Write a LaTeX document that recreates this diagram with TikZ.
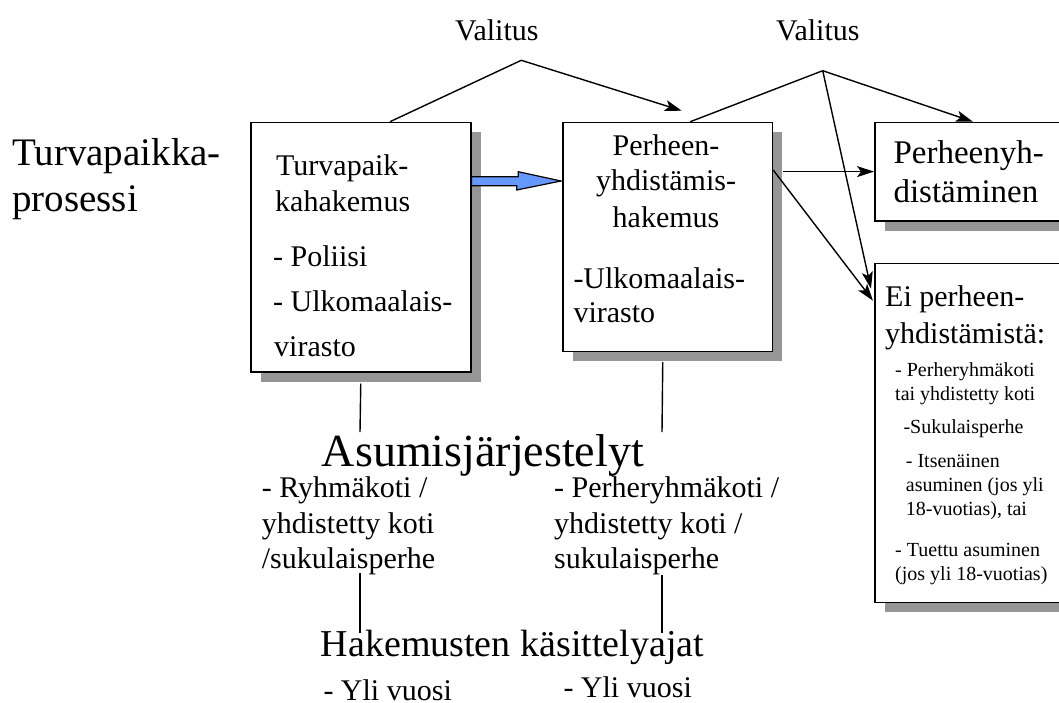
\documentclass[tikz,border=0pt]{standalone}
\usepackage{fontspec}
\setmainfont{Liberation Serif}
\usetikzlibrary{arrows.meta,shadows,calc}
\definecolor{arrowblue}{RGB}{102,153,255}
\definecolor{shadowgray}{RGB}{150,150,150}
\begin{document}
\begin{tikzpicture}[x=1pt,y=-1pt,
  box/.style={draw, line width=1.5pt, fill=white, anchor=north west, inner sep=0pt,
    general shadow={fill=shadowgray, shadow xshift=10pt, shadow yshift=-10pt}},
  conn/.style={line width=1.4pt},
  arr/.style={conn, -{Stealth[length=17pt,width=11pt,inset=4pt]}},
  lbl/.style={anchor=base west, inner sep=0pt},
  clbl/.style={anchor=base, inner sep=0pt},
  fbig/.style={font=\fontsize{39}{47}\selectfont},
  fmid/.style={font=\fontsize{30}{36}\selectfont},
  fres/.style={font=\fontsize{33}{40}\selectfont},
  fsm/.style={font=\fontsize{20}{24}\selectfont},
  fasu/.style={font=\fontsize{46}{55}\selectfont},
  fhak/.style={font=\fontsize{38}{46}\selectfont}
]
\useasboundingbox (0,0) rectangle (1059,702);
\clip (0,0) rectangle (1059,702);

% boxes
\node[box, minimum width=220pt, minimum height=249.3pt] (b1) at (250,121.7) {};
\node[box, minimum width=209.4pt, minimum height=229pt] (b2) at (562.3,121.7) {};
\node[box, minimum width=200pt, minimum height=98.3pt] (b3) at (874,121.7) {};
\node[box, minimum width=200pt, minimum height=339pt] (b4) at (874,262.7) {};

% left title
\node[lbl, fbig] (t1) at (12,165.7) {Turvapaikka-};
\node[lbl, fbig] (t2) at (12,211.7) {prosessi};

% Valitus labels
\node[lbl, fmid] (val1) at (455,40) {Valitus};
\node[lbl, fmid] (val2) at (776,40) {Valitus};

% box 1 text
\node[lbl, fmid] (b1a) at (276,175.7) {Turvapaik-};
\node[lbl, fmid] (b1b) at (275,211) {kahakemus};
\node[lbl, fmid] (b1c) at (273,266.7) {- Poliisi};
\node[lbl, fmid] (b1d) at (273,311) {- Ulkomaalais-};
\node[lbl, fmid] (b1e) at (274,356) {virasto};

% box 2 text
\node[clbl, fmid] (b2a) at (666,155) {Perheen-};
\node[clbl, fmid] (b2b) at (666,190) {yhdistämis-};
\node[clbl, fmid] (b2c) at (666,227.3) {hakemus};
\node[lbl, fmid] (b2d) at (573.3,288.6) {-Ulkomaalais-};
\node[lbl, fmid] (b2e) at (573.3,322) {virasto};

% box 3 text
\node[lbl, fres] (b3a) at (893.3,163.3) {Perheenyh-};
\node[lbl, fres] (b3b) at (893.3,202) {distäminen};

% box 4 text
\node[lbl, fmid] (b4a) at (885,306.7) {Ei perheen-};
\node[lbl, fmid] (b4b) at (885,343.3) {yhdistämistä:};
\node[lbl, fsm] (b4c) at (895,376.7) {- Perheryhmäkoti};
\node[lbl, fsm] (b4d) at (895,400) {tai yhdistetty koti};
\node[lbl, fsm] (b4e) at (903.3,433.3) {-Sukulaisperhe};
\node[lbl, fsm] (b4f) at (905.7,467.7) {- Itsenäinen};
\node[lbl, fsm] (b4g) at (905.7,491) {asuminen (jos yli};
\node[lbl, fsm] (b4h) at (905.7,515) {18-vuotias), tai};
\node[lbl, fsm] (b4i) at (895,556.7) {- Tuettu asuminen};
\node[lbl, fsm] (b4j) at (895,580) {(jos yli 18-vuotias)};

% lower texts
\node[lbl, fasu] (asu) at (321.7,466) {Asumisjärjestelyt};
\node[lbl, fmid] (r1) at (261.7,497.3) {- Ryhmäkoti /};
\node[lbl, fmid] (r2) at (261.7,533.3) {yhdistetty koti};
\node[lbl, fmid] (r3) at (261.7,568.3) {/sukulaisperhe};
\node[lbl, fmid] (p1) at (554,497.3) {- Perheryhmäkoti /};
\node[lbl, fmid] (p2) at (554,533.3) {yhdistetty koti /};
\node[lbl, fmid] (p3) at (554,568.3) {sukulaisperhe};
\node[lbl, fhak] (hak) at (320.7,656) {Hakemusten käsittelyajat};
\node[lbl, fmid] (y1) at (323.3,700) {- Yli vuosi};
\node[lbl, fmid] (y2) at (563.3,697) {- Yli vuosi};

% connector points
\coordinate (v1) at (521.3,60.3);
\coordinate (v1end) at (681.7,110.7);
\coordinate (v2) at (822.7,70.7);
\coordinate (s23) at (b3.west -| b2.east);
\coordinate (l1top) at (360,432);
\coordinate (l2top) at (662,432);
\coordinate (l1b) at (360,573.3);
\coordinate (l1c) at (360,633.3);
\coordinate (l2b) at (662,575);
\coordinate (l2c) at (662,633.3);

% Valitus connectors
\draw[conn] ([xshift=140pt]b1.north west) -- (v1);
\draw[arr] (v1) -- (v1end);
\draw[conn] ([xshift=128pt]b2.north west) -- (v2);
\draw[arr] (v2) -- ([xshift=99pt]b3.north west);
\draw[arr] (v2) -- ([xshift=-3pt,yshift=-26pt]b4.north west);

% box2 outcomes
\draw[arr] ([xshift=10pt]s23) -- (b3.west);
\draw[arr] ([yshift=-48.3pt]b2.north east) -- ([xshift=-1pt,yshift=-38pt]b4.north west);

% blue arrow
\coordinate (tip) at ([xshift=-1.3pt,yshift=-59.3pt]b2.north west);
\draw[line width=1.2pt, fill=arrowblue, line join=miter]
  ([yshift=-55pt]b1.north east) -- ++(46.7,0) -- ++(0,-5) -- (tip)
  -- ++(-44.3,9) -- ++(0,-4.3) -- ([yshift=-64pt]b1.north east) -- cycle;

% vertical lines
\draw[conn] ([yshift=-11pt]b1.south) -- (l1top);
\draw[conn] ([xshift=-5pt,yshift=-10pt]b2.south) -- (l2top);
\draw[conn] (l1b) -- (l1c);
\draw[conn] (l2b) -- (l2c);
\end{tikzpicture}
\end{document}
